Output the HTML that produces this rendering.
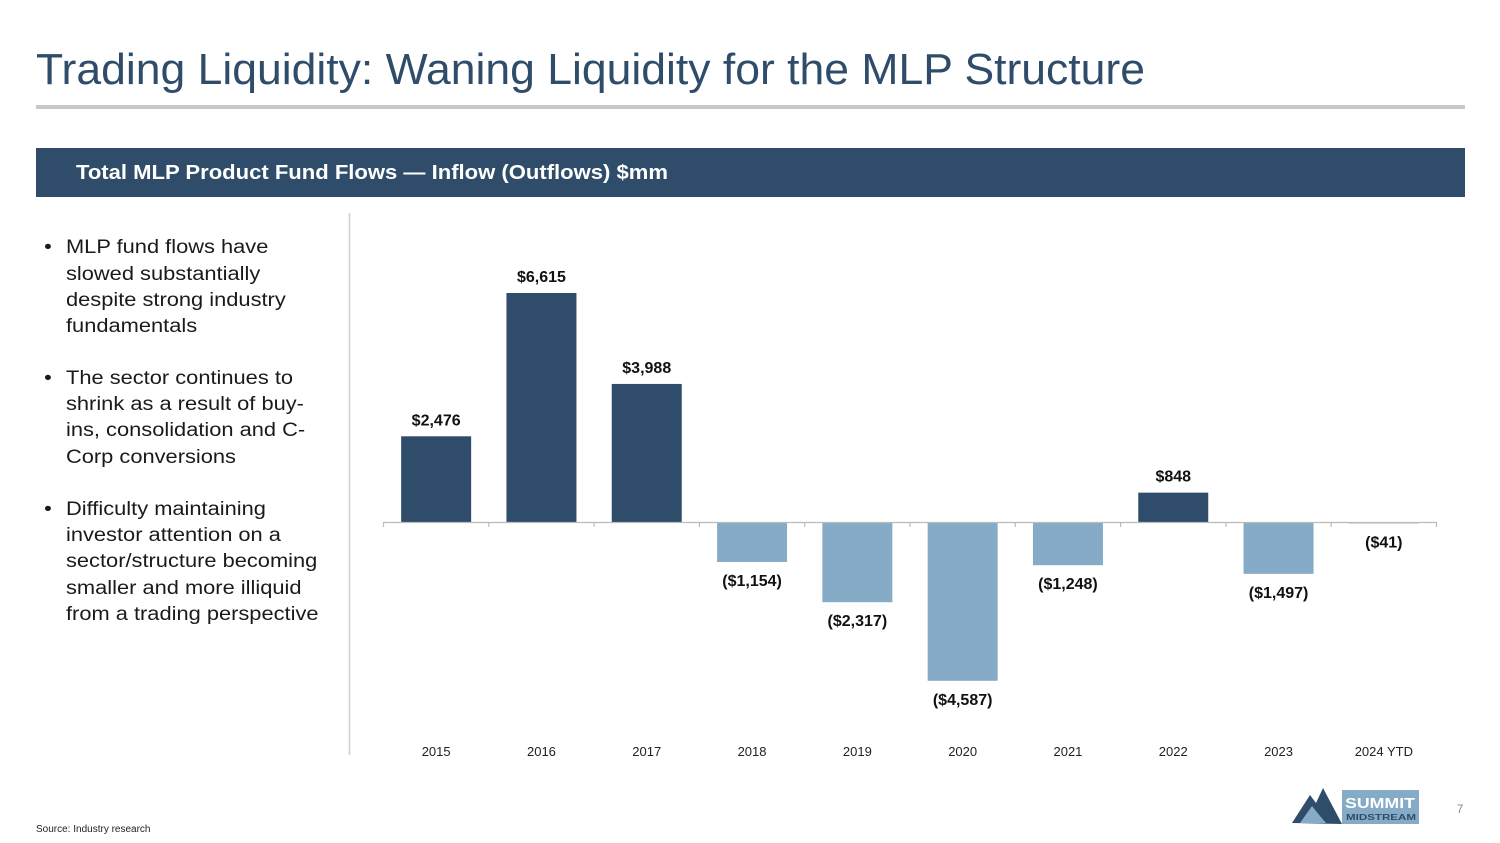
<!DOCTYPE html>
<html><head><meta charset="utf-8"><style>
html,body{margin:0;padding:0;background:#fff;width:1500px;height:843px;overflow:hidden}
svg{display:block;font-family:"Liberation Sans",sans-serif}
</style></head><body>
<svg id="s" width="1500" height="843" viewBox="0 0 1500 843">
  <text x="36" y="84" font-family="'Liberation Sans Narrow','Liberation Sans',sans-serif" font-size="44" fill="#2f4d6a" textLength="1109" lengthAdjust="spacingAndGlyphs">Trading Liquidity: Waning Liquidity for the MLP Structure</text>
  <rect x="36" y="105" width="1429" height="4" fill="#c8c8c8"/>
  <rect x="36" y="148" width="1429" height="49" fill="#2f4d6a"/>
  <text x="76" y="179" font-size="20" font-weight="bold" fill="#fff" textLength="592" lengthAdjust="spacingAndGlyphs">Total MLP Product Fund Flows — Inflow (Outflows) $mm</text>
  <line x1="349.5" y1="213" x2="349.5" y2="755" stroke="#d0d0d0" stroke-width="1.5"/>
  <g font-size="19" fill="#1a1a1a" transform="translate(66,0) scale(1.15,1) translate(-66,0)">
    <text x="47" y="253">•</text>
    <text x="66" y="253">MLP fund flows have</text>
    <text x="66" y="280">slowed substantially</text>
    <text x="66" y="306">despite strong industry</text>
    <text x="66" y="332">fundamentals</text>
    <text x="47" y="384">•</text>
    <text x="66" y="384">The sector continues to</text>
    <text x="66" y="410">shrink as a result of buy-</text>
    <text x="66" y="436">ins, consolidation and C-</text>
    <text x="66" y="463">Corp conversions</text>
    <text x="47" y="515">•</text>
    <text x="66" y="515">Difficulty maintaining</text>
    <text x="66" y="541">investor attention on a</text>
    <text x="66" y="567">sector/structure becoming</text>
    <text x="66" y="594">smaller and more illiquid</text>
    <text x="66" y="620">from a trading perspective</text>
  </g>
  <g id="chart"></g>
  <text x="36" y="832" font-size="10" fill="#222">Source: Industry research</text>
  <g>
    <polygon points="1292,823 1310,795 1316,803 1323,788 1342,824" fill="#2f4d6a"/>
    <polygon points="1300,823 1312,806 1320,816 1326,823" fill="#86abc7"/>
    <rect x="1342" y="790" width="77" height="34" fill="#86abc7"/>
    <text x="1380" y="808" font-size="15" font-weight="bold" fill="#fff" text-anchor="middle" textLength="70" lengthAdjust="spacingAndGlyphs">SUMMIT</text>
    <text x="1381" y="820" font-size="8" font-weight="bold" fill="#2f4d6a" text-anchor="middle" textLength="70" lengthAdjust="spacingAndGlyphs">MIDSTREAM</text>
  </g>
  <text x="1460" y="813" font-size="12" fill="#888" text-anchor="middle">7</text>
</svg>
<script>
const categories = ["2015","2016","2017","2018","2019","2020","2021","2022","2023","2024 YTD"];
const values = [2476, 6615, 3988, -1154, -2317, -4587, -1248, 848, -1497, -41];
const valueLabels = ["$2,476","$6,615","$3,988","($1,154)","($2,317)","($4,587)","($1,248)","$848","($1,497)","($41)"];

const NS = "http://www.w3.org/2000/svg";
const g = document.getElementById("chart");
const x0 = 383.5, step = 105.3, barW = 70, zeroY = 522, pxPerUnit = 229 / 6615;
function xCenter(i){ return x0 + step * (i + 0.5); }
function yScale(v){ return zeroY - v * pxPerUnit; }
function mk(tag, attrs){ const e = document.createElementNS(NS, tag); for (const k in attrs) e.setAttribute(k, attrs[k]); g.appendChild(e); return e; }

categories.forEach((c, i) => {
  const v = values[i];
  const yv = yScale(v);
  const top = Math.min(yv, zeroY), h = Math.max(Math.abs(yv - zeroY), 1);
  const r = mk("rect", {x: xCenter(i) - barW/2, y: top, width: barW, height: h, fill: v >= 0 ? "#2f4d6a" : "#86abc7"});
  
  
  const ly = v >= 0 ? yv - 11 : Math.max(yv, zeroY) + 24;
  const t = mk("text", {x: xCenter(i), y: ly, "text-anchor": "middle", "font-size": "16", "font-weight": "bold", fill: "#111"});
  t.textContent = valueLabels[i];
  
  
  const xl = mk("text", {x: xCenter(i), y: 756, "text-anchor": "middle", "font-size": "13", fill: "#222"});
  xl.textContent = c;
  
  
});
const axis = mk("line", {x1: x0, y1: zeroY + 0.5, x2: x0 + step * categories.length, y2: zeroY + 0.5, stroke: "#bbb", "stroke-width": 1.2});


for (let i = 0; i <= categories.length; i++) {
  const tk = mk("line", {x1: x0 + step * i, y1: zeroY, x2: x0 + step * i, y2: zeroY + 5, stroke: "#bbb", "stroke-width": 1.2});
  
  
}
</script>
</body></html>
